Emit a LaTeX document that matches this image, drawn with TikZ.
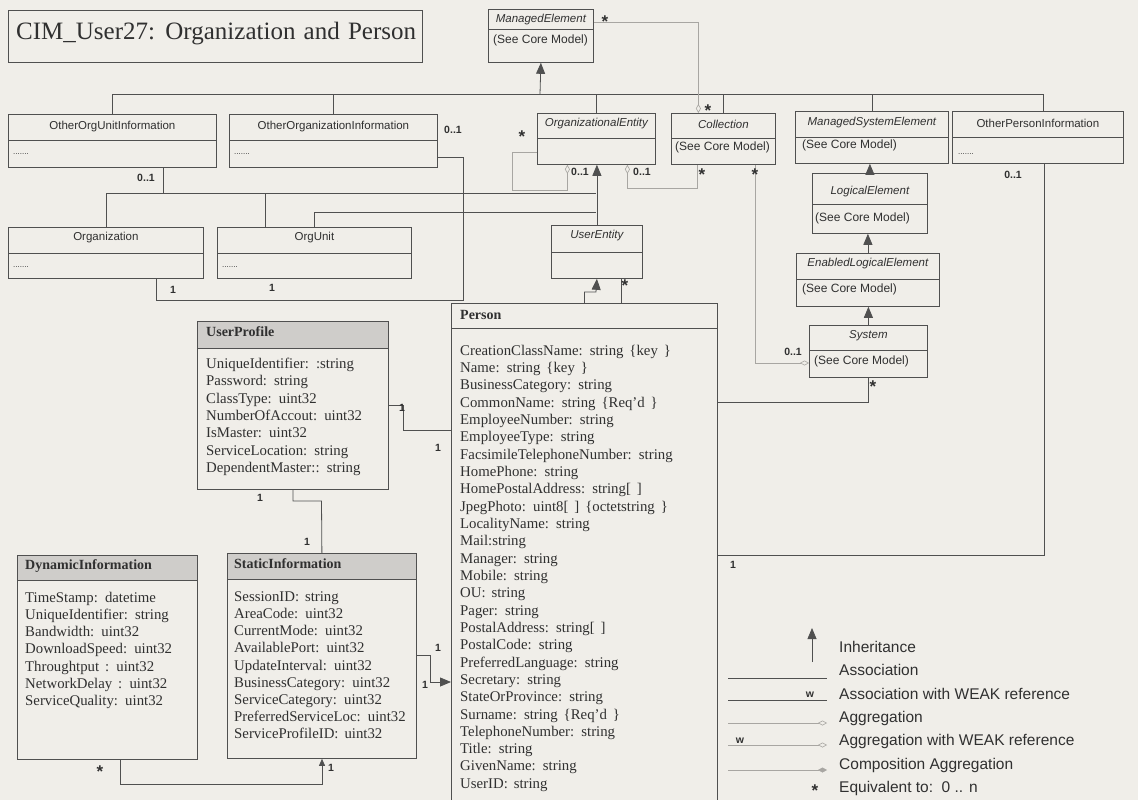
\documentclass[tikz,border=0pt]{standalone}
\usepackage{fontspec}
\setmainfont{Liberation Serif}
\setsansfont{Liberation Sans}
\usetikzlibrary{arrows.meta}

\definecolor{paper}{HTML}{F0EEE9}
\definecolor{ink}{HTML}{505050}
\definecolor{txt}{HTML}{303030}
\definecolor{hdr}{HTML}{CFCDCA}
\definecolor{faint}{HTML}{A8A6A2}

\newcommand\attrspace{\spaceskip=0.4em plus 0.1em\relax}
\newcommand\titlespace{\spaceskip=0.33em plus 0.1em\relax}

\tikzset{
  cls/.style={draw=ink,line width=0.8pt,anchor=north west,inner sep=0pt},
  hdbox/.style={cls,fill=hdr},
  conn/.style={draw=ink,line width=0.8pt},
  weak/.style={draw=faint,line width=0.6pt},
  inh/.style={conn,-{Triangle[width=9pt,length=11pt]}},
  agg/.style={weak,-{Diamond[open,width=5pt,length=9pt]}},
  ttl/.style={font=\sffamily\fontsize{11.5}{13}\selectfont,text=txt,inner sep=0pt},
  ttli/.style={font=\sffamily\itshape\fontsize{11.5}{13}\selectfont,text=txt,inner sep=0pt},
  core/.style={font=\sffamily\fontsize{12}{14}\selectfont,text=txt,anchor=mid west,inner sep=0pt},
  dots/.style={font=\sffamily\fontsize{8}{9}\selectfont,text=txt,anchor=mid west,inner sep=0pt},
  attr/.style={font=\fontsize{14.8}{17}\selectfont\attrspace,text=txt,anchor=mid west,inner sep=0pt},
  hdtxt/.style={font=\bfseries\fontsize{14}{17}\selectfont,text=txt,anchor=mid west,inner sep=0pt},
  mult/.style={font=\sffamily\bfseries\fontsize{10.5}{12}\selectfont,text=txt,inner sep=0pt},
  mstar/.style={font=\sffamily\bfseries\fontsize{17}{17}\selectfont,text=txt,inner sep=0pt,yshift=-3.5pt},
  legt/.style={font=\sffamily\fontsize{15.5}{18}\selectfont,text=txt,anchor=mid west,inner sep=0pt}
}

\begin{document}
\begin{tikzpicture}[x=1pt,y=-1pt]
\clip (0,0) rectangle (1138,800);
\fill[paper] (0,0) rectangle (1138,800);

% title
\node[cls,minimum width=414,minimum height=52] (title) at (8,10) {};
\node[font=\fontsize{25}{28}\selectfont\titlespace,text=txt,anchor=mid west,inner sep=0pt] (titleT) at (16,37) {CIM\_User27: Organization and Person};

% classes
\node[cls,minimum width=105,minimum height=53] (mngElem) at (488,9) {};
\node[cls,minimum width=208,minimum height=53] (othOUInfo) at (8,114) {};
\node[cls,minimum width=208,minimum height=53] (othOrgInfo) at (229,114) {};
\node[cls,minimum width=118,minimum height=51] (orgEntity) at (537,113) {};
\node[cls,minimum width=104,minimum height=51] (collection) at (671,113) {};
\node[cls,minimum width=153,minimum height=52] (mngSysElem) at (795,111) {};
\node[cls,minimum width=171,minimum height=52] (othPersInfo) at (952,111) {};
\node[cls,minimum width=115,minimum height=60] (logElem) at (812,173) {};
\node[cls,minimum width=143,minimum height=53] (enLogElem) at (796,253) {};
\node[cls,minimum width=118,minimum height=52] (system) at (809,325) {};
\node[cls,minimum width=195,minimum height=51] (organization) at (8,227) {};
\node[cls,minimum width=194,minimum height=51] (orgUnit) at (217,227) {};
\node[cls,minimum width=91,minimum height=53] (userEntity) at (551,225) {};
\node[cls,minimum width=266,minimum height=520] (person) at (451,303) {};
\node[hdbox,minimum width=191,minimum height=27] (userProfileH) at (197,321) {};
\node[cls,minimum width=191,minimum height=168] (userProfile) at (197,321) {};
\node[hdbox,minimum width=180,minimum height=25] (dynInfoH) at (17,555) {};
\node[cls,minimum width=180,minimum height=204] (dynInfo) at (17,555) {};
\node[hdbox,minimum width=189,minimum height=26] (statInfoH) at (227,553) {};
\node[cls,minimum width=189,minimum height=205] (statInfo) at (227,553) {};

\foreach \n/\d in {mngElem/20,othOUInfo/26,othOrgInfo/26,orgEntity/25,collection/25,
  mngSysElem/26,othPersInfo/26,logElem/31,enLogElem/26,system/25,organization/26,
  orgUnit/26,userEntity/27,person/25}
  \draw[conn] ([yshift=-\d pt]\n.north west) -- ([yshift=-\d pt]\n.north east);

% class names
\node[ttli] (mngElemT) at ([yshift=-10.5pt]mngElem.north) {ManagedElement};
\node[ttl] (othOUInfoT) at ([yshift=-13pt]othOUInfo.north) {OtherOrgUnitInformation};
\node[ttl] (othOrgInfoT) at ([yshift=-13pt]othOrgInfo.north) {OtherOrganizationInformation};
\node[ttli] (orgEntityT) at ([yshift=-11pt]orgEntity.north) {OrganizationalEntity};
\node[ttli] (collectionT) at ([yshift=-11pt]collection.north) {Collection};
\node[ttli] (mngSysElemT) at ([yshift=-12pt]mngSysElem.north) {ManagedSystemElement};
\node[ttl] (othPersInfoT) at ([yshift=-12pt]othPersInfo.north) {OtherPersonInformation};
\node[ttli] (logElemT) at ([yshift=-19pt]logElem.north) {LogicalElement};
\node[ttli] (enLogElemT) at ([yshift=-11pt]enLogElem.north) {EnabledLogicalElement};
\node[ttli] (systemT) at ([yshift=-11pt]system.north) {System};
\node[ttl] (organizationT) at ([yshift=-11pt]organization.north) {Organization};
\node[ttl] (orgUnitT) at ([yshift=-11pt]orgUnit.north) {OrgUnit};
\node[ttli] (userEntityT) at ([yshift=-11pt]userEntity.north) {UserEntity};
\node[hdtxt] (personT) at ([xshift=9pt,yshift=-14pt]person.north west) {Person};
\node[hdtxt] (userProfileT) at ([xshift=9pt,yshift=-13pt]userProfile.north west) {UserProfile};
\node[hdtxt] (dynInfoT) at ([xshift=8pt,yshift=-12pt]dynInfo.north west) {DynamicInformation};
\node[hdtxt] (statInfoT) at ([xshift=7pt,yshift=-13pt]statInfo.north west) {StaticInformation};

% compartments
\node[core] (mngElemC) at ([xshift=5pt,yshift=-32pt]mngElem.north west) {(See Core Model)};
\node[core] (collectionC) at ([xshift=4pt,yshift=-35pt]collection.north west) {(See Core Model)};
\node[core] (mngSysElemC) at ([xshift=7pt,yshift=-35pt]mngSysElem.north west) {(See Core Model)};
\node[core] (logElemC) at ([xshift=3pt,yshift=-46pt]logElem.north west) {(See Core Model)};
\node[core] (enLogElemC) at ([xshift=6pt,yshift=-37pt]enLogElem.north west) {(See Core Model)};
\node[core] (systemC) at ([xshift=5pt,yshift=-37pt]system.north west) {(See Core Model)};
\node[dots] (othOUInfoD) at ([xshift=5pt,yshift=-38pt]othOUInfo.north west) {.......};
\node[dots] (othOrgInfoD) at ([xshift=5pt,yshift=-38pt]othOrgInfo.north west) {.......};
\node[dots] (othPersInfoD) at ([xshift=6pt,yshift=-41pt]othPersInfo.north west) {.......};
\node[dots] (organizationD) at ([xshift=5pt,yshift=-38pt]organization.north west) {.......};
\node[dots] (orgUnitD) at ([xshift=5pt,yshift=-38pt]orgUnit.north west) {.......};

\foreach \t [count=\i from 0] in {{UniqueIdentifier: :string},{Password: string},
  {ClassType: uint32},{NumberOfAccout: uint32},{IsMaster: uint32},
  {ServiceLocation: string},{DependentMaster:: string}}
  \node[attr] (up\i) at (206,{366+17.4*\i}) {\t};

\foreach \t [count=\i from 0] in {{TimeStamp: datetime},{UniqueIdentifier: string},
  {Bandwidth: uint32},{DownloadSpeed: uint32},{Throughtput : uint32},
  {NetworkDelay : uint32},{ServiceQuality: uint32}}
  \node[attr] (di\i) at (25,{600+17.2*\i}) {\t};

\foreach \t [count=\i from 0] in {{SessionID: string},{AreaCode: uint32},
  {CurrentMode: uint32},{AvailablePort: uint32},{UpdateInterval: uint32},
  {BusinessCategory: uint32},{ServiceCategory: uint32},
  {PreferredServiceLoc: uint32},{ServiceProfileID: uint32}}
  \node[attr] (si\i) at (234,{599+17.2*\i}) {\t};

\foreach \t [count=\i from 0] in {{CreationClassName: string \{key \}},
  {Name: string \{key \}},{BusinessCategory: string},{CommonName: string \{Req'd \}},
  {EmployeeNumber: string},{EmployeeType: string},{FacsimileTelephoneNumber: string},
  {HomePhone: string},{HomePostalAddress: string[ ]},{JpegPhoto: uint8[ ] \{octetstring \}},
  {LocalityName: string},{Mail:string},{Manager: string},{Mobile: string},
  {OU: string},{Pager: string},{PostalAddress: string[ ]},{PostalCode: string},
  {PreferredLanguage: string},{Secretary: string},{StateOrProvince: string},
  {Surname: string \{Req'd \}},{TelephoneNumber: string},{Title: string},
  {GivenName: string},{UserID: string}}
  \node[attr] (pa\i) at (460,{353+17.32*\i}) {\t};

% inheritance from ManagedElement
\coordinate (bus) at (540,94);
\draw[conn] (othOUInfo.north) |- (bus);
\draw[conn] ([xshift=5pt]othPersInfo.north) |- (bus);
\foreach \n in {othOrgInfo,orgEntity,collection,mngSysElem}
  \draw[conn] (\n.north) -- (\n.north |- bus);
\draw[inh] (bus) -- (mngElem.south);

\draw[inh] (logElem.north) -- (logElem.north |- mngSysElem.south);
\draw[inh] (enLogElem.north) -- (enLogElem.north |- logElem.south);
\draw[inh] (system.north) -- (system.north |- enLogElem.south);

% inheritance into OrganizationalEntity
\coordinate (jA) at (596,193);
\coordinate (jB) at (596,212);
\draw[conn] (organization.north) |- (jA);
\draw[conn] ([xshift=-49pt]orgUnit.north) |- (jA);
\draw[conn] ([xshift=51pt]othOUInfo.south) |- (jA);
\draw[conn] (orgUnit.north) |- (jB);
\draw[inh] (userEntity.north) -- (userEntity.north |- orgEntity.south);

% associations
\coordinate (c8) at (463,300);
\draw[conn] ([yshift=-16.5pt]othOrgInfo.east) -| (c8) -| ([xshift=50pt]organization.south);
\coordinate (c9) at (596,292);
\draw[inh] (person.north) |- (c9) -- (userEntity.south);
\draw[conn] ([xshift=24pt]userEntity.south) -- ([xshift=24pt]userEntity.south |- person.north);
\draw[conn] (system.south) |- ([yshift=-99pt]person.north east);
\draw[conn] ([xshift=6.5pt]othPersInfo.south) |- ([yshift=-252pt]person.north east);
\coordinate (c12) at (403,430);
\draw[conn] ([yshift=-84pt]userProfile.north east) -| (c12) -- (c12 -| person.west);
\coordinate (c13) at (321.5,501);
\draw[conn] (userProfile.south) |- (c13) -- (statInfo.north);
\coordinate (c14) at (322,784);
\draw[conn,-{Triangle[width=6pt,length=7pt]}] ([xshift=13pt]dynInfo.south) |- (c14) -- (c14 |- statInfo.south);
\coordinate (c15) at (430,682);
\draw[conn,-{Triangle[width=9pt,length=11pt]}] ([yshift=-102pt]statInfo.north east) -| (c15) -- (c15 -| person.west);

% aggregations (light)
\draw[agg] ([yshift=-13pt]mngElem.north east) -| ([xshift=-25pt]collection.north);
\coordinate (f3) at (512,190);
\draw[weak,{Diamond[open,width=5pt,length=9pt]}-] ([xshift=-29pt]orgEntity.south) |- (f3) |- ([yshift=-39pt]orgEntity.north west);
\coordinate (f4) at (697,188);
\draw[weak,{Diamond[open,width=5pt,length=9pt]}-] ([xshift=31pt]orgEntity.south) |- (f4) -- (f4 |- collection.south);
\draw[agg] ([xshift=32pt]collection.south) |- ([yshift=-38pt]system.north west);

% multiplicities
\foreach \x/\y/\t [count=\i] in {453/130/0..1,580/172/0..1,642/172/0..1,146/178/0..1,
  1013/175/0..1,793/352/0..1,173/290/1,272/288/1,402/408/1,438/448/1,260/498/1,
  307/542/1,438/648/1,425/685/1,331/768/1,733/565/1}
  \node[mult] (m\i) at (\x,\y) {\t};
\foreach \x/\y [count=\i] in {605/18,522/133,708/107,702/171,755/171,625/282,
  873/383,100/768,815/787}
  \node[mstar] (s\i) at (\x,\y) {*};

% legend
\coordinate (lgI1) at (812,662);
\coordinate (lgI2) at (812,628);
\draw[inh] (lgI1) -- (lgI2);
\foreach \y [count=\i] in {678,700,723,745,770} {
  \coordinate (lgL\i) at (728,\y);
  \coordinate (lgR\i) at (827,\y);
}
\draw[conn,line width=0.6pt] (lgL1) -- (lgR1);
\draw[conn,line width=0.6pt] (lgL2) -- (lgR2);
\draw[agg] (lgL3) -- (lgR3);
\draw[agg] (lgL4) -- (lgR4);
\draw[weak,-{Diamond[fill=faint,width=5pt,length=9pt]}] (lgL5) -- (lgR5);
\node[mult] (lgW1) at (810,695) {w};
\node[mult] (lgW2) at (740,741) {w};
\node[legt] (lgT1) at (839,650) {Inheritance};
\node[legt] (lgT2) at (839,673) {Association};
\node[legt] (lgT3) at (839,697) {Association with WEAK reference};
\node[legt] (lgT4) at (839,720) {Aggregation};
\node[legt] (lgT5) at (839,743) {Aggregation with WEAK reference};
\node[legt] (lgT6) at (839,767) {Composition Aggregation};
\node[legt] (lgT7) at (839,790) {Equivalent to:\ \ 0 .. n};
\end{tikzpicture}
\end{document}
